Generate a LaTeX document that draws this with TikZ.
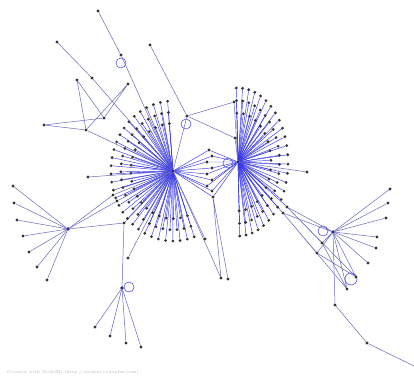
\documentclass[tikz,border=0pt]{standalone}
\usetikzlibrary{backgrounds}
\definecolor{eb}{RGB}{55,55,230}
\definecolor{eg}{RGB}{105,105,190}
\tikzset{
  dot/.style={circle,fill=black!80,inner sep=0pt,minimum size=3.1pt},
  hubdot/.style={circle,fill=eb!60!black,inner sep=0pt,minimum size=3.6pt},
  fe/.style={draw=eb,line width=0.45pt},
  le/.style={draw=eg,line width=0.5pt},
  lp/.style={draw=eb!85,line width=0.6pt},
}
\begin{document}
\begin{tikzpicture}[x=1pt,y=-1pt]
\useasboundingbox (0,0) rectangle (414,377);
% hubs
\node[hubdot] (A) at (173,171) {};
\node[hubdot] (B) at (238,162) {};
\node[hubdot] (C) at (68,229) {};
\node[hubdot] (D) at (122,288) {};
\node[hubdot] (E) at (333,232) {};
% fan A
\foreach \s/\n/\r in {1.0/30/o,0.84/26/m,0.68/21/i}{
  \foreach \k in {1,...,\n}{
    \pgfmathsetmacro\t{95+(\k-1)*195/(\n-1)}
    \node[dot] (A\r\k) at ({173+62*\s*cos(\t)},{171-70*\s*sin(\t)}) {};
    \begin{scope}[on background layer]\draw[fe] (A) -- (A\r\k);\end{scope}
  }
}
% fan B
\foreach \s/\n/\r in {1.0/26/o,0.83/22/m,0.66/17/i}{
  \foreach \k in {1,...,\n}{
    \pgfmathsetmacro\t{92-(\k-1)*180/(\n-1)}
    \node[dot] (B\r\k) at ({238+50*\s*cos(\t)},{162-74*\s*sin(\t)}) {};
    \begin{scope}[on background layer]\draw[fe] (B) -- (B\r\k);\end{scope}
  }
}
% diamond between A and B
\foreach \k/\x/\y in {1/209/150,2/212/156,3/207/162,4/212/168,5/207/174,6/212/180,7/207/186,8/212/191,9/213/197}{
  \node[dot] (M\k) at (\x,\y) {};
  \begin{scope}[on background layer]\draw[fe] (A) -- (M\k) -- (B);\end{scope}
}
% other nodes
\node[dot] (T1) at (98,11) {};
\node[dot] (T2) at (121,55) {};
\node[dot] (U1) at (57,42) {};
\node[dot] (U2) at (92,78) {};
\node[dot] (V) at (150,45) {};
\node[dot] (W) at (187,116) {};
\node[dot] (W1) at (234,102) {};
\node[dot] (W2) at (235,138) {};
\node[dot] (P1) at (77,80) {};
\node[dot] (P3) at (128,84) {};
\node[dot] (P4) at (44,125) {};
\node[dot] (P5) at (86,130) {};
\node[dot] (P6) at (104,118) {};
\node[dot] (Q) at (88,177) {};
\node[dot] (C1) at (113,195) {};
\node[dot] (C2) at (117,201) {};
\node[dot] (R) at (124,223) {};
\node[dot] (S) at (128,258) {};
\node[dot] (S2) at (205,239) {};
\node[dot] (Y1) at (221,278) {};
\node[dot] (Y2) at (228,279) {};
\foreach \k/\x/\y in {1/13/186,2/14/203,3/17/220,4/23/236,5/29/252,6/37/267,7/47/280}{
  \node[dot] (CL\k) at (\x,\y) {};
  \begin{scope}[on background layer]\draw[le] (C) -- (CL\k);\end{scope}
}
\foreach \k/\x/\y in {1/95/327,2/110/336,3/126/343,4/141/347}{
  \node[dot] (DL\k) at (\x,\y) {};
  \begin{scope}[on background layer]\draw[le] (D) -- (DL\k);\end{scope}
}
\node[dot] (Z) at (307,172) {};
\node[dot] (F1) at (287,207) {};
\node[dot] (F2) at (283,213) {};
\foreach \k/\x/\y in {1/390/189,2/388/203,3/386/218,4/377/237,5/376/248,6/368/263}{
  \node[dot] (EL\k) at (\x,\y) {};
  \begin{scope}[on background layer]\draw[le] (E) -- (EL\k);\end{scope}
}
\node[dot] (G1) at (322,243) {};
\node[dot] (G2) at (317,253) {};
\node[dot] (G3) at (356,277) {};
\node[dot] (G4) at (347,289) {};
\node[dot] (H1) at (335,305) {};
\node[dot] (H2) at (367,343) {};
\coordinate (H3) at (414,366);
% edges
\begin{scope}[on background layer]
  \draw[le] (T1) -- (T2) -- (A);
  \draw[le] (U1) -- (U2) -- (A);
  \draw[le] (V) -- (W) -- (A);
  \draw[le] (W) -- (W1) -- (B);
  \draw[le] (W) -- (W2) -- (B);
  \draw[le] (P1) -- (P5) (P1) -- (P6) (P3) -- (P5) (P3) -- (P6) (P4) -- (P5) (P4) -- (P6);
  \draw[le] (P5) -- (A);
  \draw[le] (Q) -- (A);
  \draw[le] (C) -- (C1) -- (A);
  \draw[le] (C) -- (C2) -- (A);
  \draw[le] (C) -- (R) -- (D);
  \draw[le] (R) -- (A);
  \draw[le] (S) -- (A);
  \draw[le] (S2) -- (A);
  \draw[le] (M9) -- (Y1) (M9) -- (Y2) (A) -- (Y1);
  \draw[le] (B) -- (Z);
  \draw[fe] (B) -- (F1) (B) -- (F2);
  \draw[le] (F1) -- (E) (F2) -- (E);
  \draw[le] (F1) -- (G1) (F1) -- (G3) (F2) -- (G2) (F2) -- (G4);
  \draw[le] (E) -- (G1) (E) -- (G2) (E) -- (G3) (E) -- (G4) (G1) -- (G4) (G2) -- (G3);
  \draw[le] (E) -- (H1) -- (H2) -- (H3);
  % self loops
  \draw[lp] (121,63) circle[radius=5];
  \draw[lp] (186,124) circle[radius=5];
  \draw[lp] (228,163) circle[radius=5];
  \draw[lp] (129,287) circle[radius=5];
  \draw[lp] (323,231) circle[radius=5];
  \draw[lp] (351,279) circle[radius=6];
\end{scope}
\node[anchor=west,text=black!30,font=\fontsize{4.2}{5}\selectfont,inner sep=0pt] (foot) at (7,372) {Created with NodeXL (http://nodexl.codeplex.com)};
\end{tikzpicture}
\end{document}
